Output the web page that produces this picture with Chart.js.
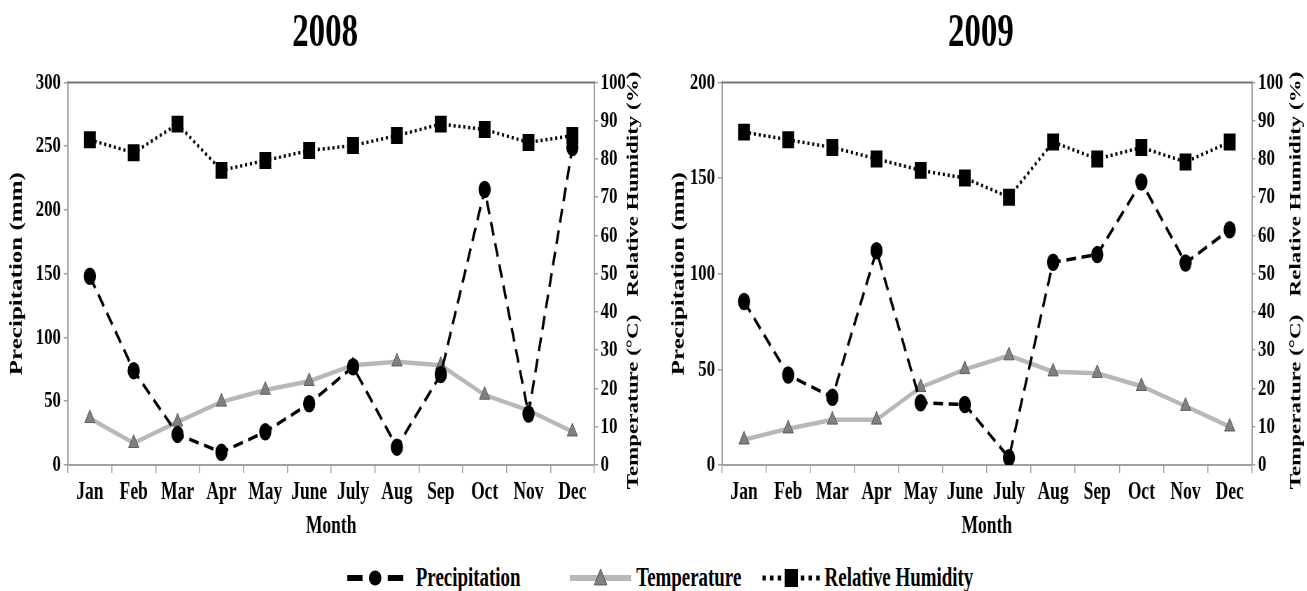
<!DOCTYPE html>
<html>
<head>
<meta charset="utf-8">
<script src="https://cdn.jsdelivr.net/npm/chart.js@4.4.1/dist/chart.umd.min.js"></script>
<style>
body{margin:0;background:#fff;width:1307px;height:591px;overflow:hidden;position:relative;font-family:"Liberation Serif","Times New Roman",serif;}
.panel{position:absolute;top:0;height:545px;transform:scaleX(0.7);transform-origin:0 0;}
#legend{position:absolute;left:343px;top:562px;width:900px;height:31px;transform:scaleX(0.7);transform-origin:0 0;font-weight:bold;font-size:27px;white-space:nowrap;}
#legend svg,#legend span{position:absolute;top:0;}
#legend span{line-height:31px;}
</style>
</head>
<body>
<div class="panel" style="left:0;width:929px"><canvas id="c2008"></canvas></div>
<div class="panel" style="left:655px;width:931px"><canvas id="c2009"></canvas></div>
<div id="legend">
  <svg style="left:0" width="93" height="31"><line x1="6" y1="16" x2="28" y2="16" stroke="#000" stroke-width="6"/><ellipse cx="46" cy="16" rx="9" ry="7.5" fill="#000"/><line x1="64" y1="16" x2="86" y2="16" stroke="#000" stroke-width="6"/></svg>
  <span style="left:104px">Precipitation</span>
  <svg style="left:324px" width="88" height="31"><line x1="0" y1="16" x2="88" y2="16" stroke="#b8b8b8" stroke-width="6"/><polygon points="44,7 53,23 35,23" fill="#808080" stroke="#555" stroke-width="1"/></svg>
  <span style="left:419px">Temperature</span>
  <svg style="left:599px" width="84" height="31"><line x1="0" y1="16" x2="30" y2="16" stroke="#000" stroke-width="5" stroke-dasharray="5,6"/><rect x="32" y="7" width="19" height="18" fill="#000"/><line x1="55" y1="16" x2="84" y2="16" stroke="#000" stroke-width="5" stroke-dasharray="5,6"/></svg>
  <span style="left:688px">Relative Humidity</span>
</div>
<script>
// month names on the x axis
var months=["Jan","Feb","Mar","Apr","May","June","July","Aug","Sep","Oct","Nov","Dec"];

// 2008 values
var precip2008=[148,74,24,10,26,48,77,14,71,216,40,249];
var temp2008=[12.2,5.7,11.3,16.5,19.6,21.9,26.1,27,26.1,18.3,14.3,8.7];
var humid2008=[85,81.6,89.1,77,79.6,82.2,83.5,86.1,89.1,87.7,84.3,86.1];

// 2009 values
var precip2009=[85.5,47,35.4,112,32.5,31.6,3.8,106,110,148,105.6,123];
var temp2009=[6.6,9.5,11.8,11.8,20.3,25,28.6,24.4,24,20.6,15.4,10];
var humid2009=[87,85,83,80,77,75,70,84.4,80,83,79.2,84.4];

// axis ranges
var precipMax2008=300;
var precipMax2009=200;
var precipStep=50;
var rightMax=100;
var rightStep=10;

var FONT='"Liberation Serif", "Times New Roman", serif';
var AXIS_GREY="#a0a0a0";

//plugin for the two stacked right titles and the top frame line
var sideTitles={
  id:"sideTitles",
  afterDraw:function(chart,args,opts){
    var ctx=chart.ctx;
    var a=chart.chartArea;
    ctx.save();
    ctx.strokeStyle="#777";
    ctx.lineWidth=2;
    ctx.beginPath();
    ctx.moveTo(a.left,a.top);
    ctx.lineTo(a.right,a.top);
    ctx.stroke();
    ctx.font="bold 23px "+FONT;
    ctx.fillStyle="#000";
    ctx.textAlign="center";
    ctx.textBaseline="middle";
    for(var i=0;i<opts.items.length;i++){
      ctx.save();
      ctx.translate(opts.x,opts.items[i].y);
      ctx.rotate(-Math.PI/2);
      ctx.fillText(opts.items[i].text,0,0);
      ctx.restore();
    }
    ctx.restore();
  }
};

function makeDatasets(precip,temp,humid){
  return [
    {label:"Precipitation",data:precip,yAxisID:"y",borderColor:"#000",borderWidth:3.5,borderDash:[14,8],
     pointStyle:"circle",pointRadius:7,pointBackgroundColor:"#000",pointBorderColor:"#000",order:1},
    {label:"Temperature",data:temp,yAxisID:"y1",borderColor:"#b8b8b8",borderWidth:4.5,
     pointStyle:"triangle",pointRadius:8.5,pointBackgroundColor:"#808080",pointBorderColor:"#5a5a5a",pointBorderWidth:1,order:2},
    {label:"Relative Humidity",data:humid,yAxisID:"y1",borderColor:"#000",borderWidth:3.5,borderDash:[3,4],
     pointStyle:"rect",pointRadius:9.5,pointBackgroundColor:"#000",pointBorderColor:"#000",order:3}
  ];
}

function tickFont(size){
  return {family:FONT,size:size,weight:"bold"};
}

function makeChart(id,title,precip,temp,humid,precipMax,lay){
  return new Chart(document.getElementById(id),{
    type:"line",
    data:{labels:months,datasets:makeDatasets(precip,temp,humid)},
    options:{
      responsive:true,
      maintainAspectRatio:false,
      animation:false,
      layout:{padding:0},
      elements:{line:{tension:0}},
      plugins:{
        legend:{display:false},
        tooltip:{enabled:false},
        title:{display:true,text:title,color:"#000",font:tickFont(47),padding:{top:6,bottom:20}},
        sideTitles:{x:lay.rightTitleX,items:[{text:"Relative Humidity (%)",y:184},{text:"Temperature (°C)",y:402}]}
      },
      scales:{
        x:{
          offset:true,
          grid:{offset:true,drawOnChartArea:false,tickLength:8,color:AXIS_GREY,lineWidth:1.5},
          border:{color:AXIS_GREY,width:2},
          ticks:{color:"#000",font:tickFont(25),padding:5,maxRotation:0,autoSkip:false},
          title:{display:true,text:"Month",color:"#000",font:tickFont(25),padding:{top:0,bottom:3}},
          afterFit:function(s){s.height=80;}
        },
        y:{
          position:"left",min:0,max:precipMax,
          grid:{drawOnChartArea:false,tickLength:6,color:AXIS_GREY,lineWidth:1.5},
          border:{color:AXIS_GREY,width:2},
          ticks:{stepSize:precipStep,color:"#000",font:tickFont(24),padding:4},
          title:{display:true,text:"Precipitation (mm)",color:"#000",font:tickFont(25),padding:{top:lay.leftTitlePad,bottom:0}},
          afterFit:function(s){s.width=lay.leftW;}
        },
        y1:{
          position:"right",min:0,max:rightMax,
          grid:{drawOnChartArea:false,tickLength:5,color:AXIS_GREY,lineWidth:1.5},
          border:{color:AXIS_GREY,width:2},
          ticks:{stepSize:rightStep,color:"#000",font:tickFont(24),padding:4},
          afterFit:function(s){s.width=lay.rightW;}
        }
      }
    },
    plugins:[sideTitles]
  });
}

makeChart("c2008","2008",precip2008,temp2008,humid2008,precipMax2008,{leftW:97,rightW:80,leftTitlePad:10,rightTitleX:905});
makeChart("c2009","2009",precip2009,temp2009,humid2009,precipMax2009,{leftW:95.7,rightW:78.5,leftTitlePad:20,rightTitleX:916});
</script>
</body>
</html>
